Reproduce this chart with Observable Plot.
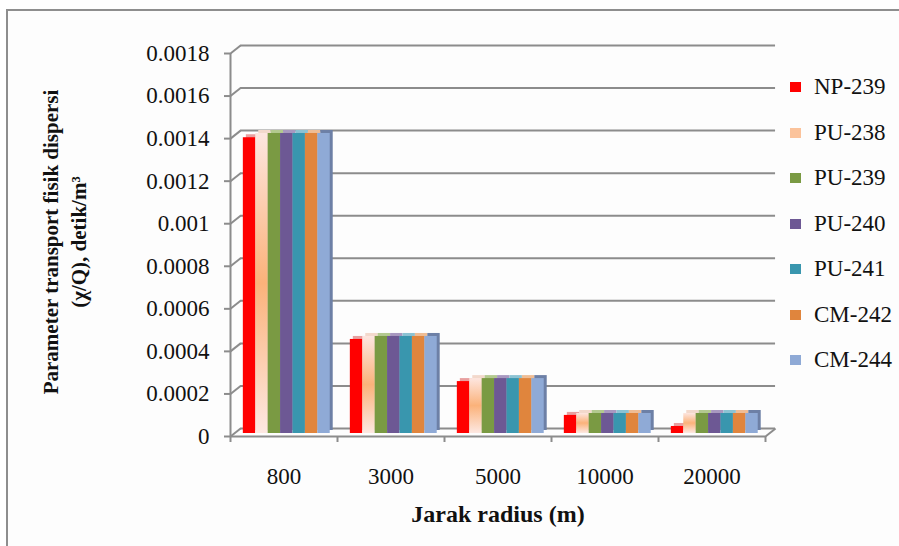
<!DOCTYPE html>
<html>
<head>
<meta charset="utf-8">
<script src="https://cdn.jsdelivr.net/npm/d3@7"></script>
<script src="https://cdn.jsdelivr.net/npm/@observablehq/plot@0.6"></script>
<style>
  body { margin: 0; background: #fff; }
  #wrap { position: relative; width: 899px; height: 546px; overflow: hidden; background: #fff;
          font-family: "Liberation Serif", "Times New Roman", serif; }
  #frame { position: absolute; left: 6px; top: 9px; width: 910px; height: 560px;
           border-left: 2px solid #8e8e8e; border-top: 2px solid #8e8e8e; background: #fdfdfd; }
  #chart { position: absolute; left: 0; top: 0; }
  #legend { position: absolute; left: 790px; top: 0; }
  .item { position: absolute; left: 0; display: flex; align-items: center; font-size: 23px;
          white-space: nowrap; color: #111; height: 26px; }
  .sw { width: 11px; height: 10px; margin-right: 13px; }
</style>
</head>
<body>
<div id="wrap">
  <div id="frame"></div>
  <div id="chart"></div>
  <div id="legend"></div>
</div>
<script>
// Distance categories (m) and isotope series
const distances = ["800", "3000", "5000", "10000", "20000"];
const isotopes = ["NP-239", "PU-238", "PU-239", "PU-240", "PU-241", "CM-242", "CM-244"];

// chi/Q values (s/m^3) per isotope, one value per distance
const np239 = [0.00139, 0.000442, 0.000244, 0.000085, 0.000033];
const pu238 = [0.00141, 0.000456, 0.000258, 0.000094, 0.000094];
const pu239 = [0.00141, 0.000456, 0.000258, 0.000094, 0.000094];
const pu240 = [0.00141, 0.000456, 0.000258, 0.000094, 0.000094];
const pu241 = [0.00141, 0.000456, 0.000258, 0.000094, 0.000094];
const cm242 = [0.00141, 0.000456, 0.000258, 0.000094, 0.000094];
const cm244 = [0.00141, 0.000456, 0.000258, 0.000094, 0.000094];

// Y axis ticks and their printed labels
const yTicks = [0, 0.0002, 0.0004, 0.0006, 0.0008, 0.001, 0.0012, 0.0014, 0.0016, 0.0018];
const yTickLabels = ["0", "0.0002", "0.0004", "0.0006", "0.0008", "0.001", "0.0012", "0.0014", "0.0016", "0.0018"];

// Styling
const frontColors = ["#ff0000", "url(#pu238grad)", "#7a9a43", "#6d5894", "#3996ae", "#e0853d", "#8faad6"];
const topColors   = ["#e8a0a0", "#f3d9cc", "#b3c98f", "#a898c0", "#8cc3d3", "#efbd95", "#6d80a6"];
const swatchColors = ["#ff0000", "#fbc39b", "#7a9a43", "#6d5894", "#3996ae", "#e0853d", "#8faad6"];
const gridColor = "#8c8c8c";
const inkColor = "#111";

const series = [np239, pu238, pu239, pu240, pu241, cm242, cm244];
const rows = distances.flatMap((dist, i) =>
  isotopes.map((iso, j) => ({ i, j, iso, dist, value: series[j][i] }))
);

// bar slots within each distance category (category units)
const groupStart = 0.12, slot = 0.116;
const x1 = d => d.i + groupStart + d.j * slot;
const x2 = d => d.i + groupStart + (d.j + 1) * slot;

// depth of the 3-D wall: horizontal in category units, vertical in value units
const depthX = 0.094;
const depthY = 0.0000376;

const chart = Plot.plot({
  width: 899,
  height: 546,
  marginLeft: 230,
  marginRight: 134,
  marginTop: 53,
  marginBottom: 110,
  x: { domain: [0, 5], axis: null },
  y: { domain: [0, 0.0018], axis: null },
  style: { background: "transparent", fontFamily: "'Liberation Serif', 'Times New Roman', serif", color: inkColor },
  marks: [
    // back-wall gridlines
    Plot.ruleY(yTicks, { y: t => t + depthY, x1: depthX, x2: 5 + depthX, stroke: gridColor, strokeWidth: 2 }),
    // side-wall connectors from the front axis to the back wall
    Plot.link(yTicks, { x1: 0, y1: t => t, x2: depthX, y2: t => t + depthY, stroke: gridColor, strokeWidth: 2 }),
    // right edge of the floor
    Plot.link([0], { x1: 5, y1: 0, x2: 5 + depthX, y2: depthY, stroke: gridColor, strokeWidth: 2 }),
    // front floor edge and front value axis
    Plot.ruleY([0], { x1: 0, x2: 5, stroke: gridColor, strokeWidth: 2 }),
    Plot.ruleX([0], { y1: 0, y2: 0.0018, stroke: gridColor, strokeWidth: 2 }),
    Plot.axisY({
      ticks: yTicks, tickFormat: (d, k) => yTickLabels[k], tickSize: 6, tickPadding: 15,
      fontSize: 23, stroke: gridColor, strokeWidth: 2, fill: inkColor, label: null
    }),
    Plot.axisX({
      ticks: [0, 1, 2, 3, 4, 5], tickFormat: () => "", tickSize: 6, stroke: gridColor, strokeWidth: 2, label: null
    }),
    Plot.axisX({
      ticks: [0.5, 1.5, 2.5, 3.5, 4.5], tickFormat: (d, k) => distances[k], tickSize: 0, tickPadding: 31,
      fontSize: 23, fill: inkColor, label: null
    }),
    // 3-D top/side faces of the columns
    Plot.rectY(rows, { x1, x2, y1: 0, y2: "value", fill: d => topColors[d.j], dx: 3, dy: -6 }),
    // front faces of the columns
    Plot.rectY(rows, { x1, x2, y1: 0, y2: "value", fill: d => frontColors[d.j], dy: -3 }),
    // axis titles
    Plot.text(["Parameter transport fisik dispersi\n(χ/Q), detik/m³"], {
      frameAnchor: "left", rotate: -90, dx: -167, dy: -3, textAnchor: "middle", lineAnchor: "middle",
      fontSize: 21, fontWeight: "bold", lineHeight: 1.33, fill: inkColor
    }),
    Plot.text(["Jarak radius (m)"], {
      frameAnchor: "bottom", dy: 85, fontSize: 24, fontWeight: "bold", fill: inkColor
    })
  ]
});

// vertical sheen used by the PU-238 columns
const svgNS = "http://www.w3.org/2000/svg";
const defs = document.createElementNS(svgNS, "defs");
defs.innerHTML = `
  <linearGradient id="pu238grad" x1="0" y1="0" x2="0" y2="1">
    <stop offset="0" stop-color="#fde6e0"/>
    <stop offset="0.5" stop-color="#fbb27a"/>
    <stop offset="1" stop-color="#fde8e2"/>
  </linearGradient>`;
chart.insertBefore(defs, chart.firstChild);
document.getElementById("chart").appendChild(chart);

// legend
const legend = document.getElementById("legend");
isotopes.forEach((iso, j) => {
  const item = document.createElement("div");
  item.className = "item";
  item.style.top = (74 + j * 45.5) + "px";
  const sw = document.createElement("span");
  sw.className = "sw";
  sw.style.background = swatchColors[j];
  const label = document.createElement("span");
  label.textContent = iso;
  item.appendChild(sw);
  item.appendChild(label);
  legend.appendChild(item);
});
</script>
</body>
</html>
